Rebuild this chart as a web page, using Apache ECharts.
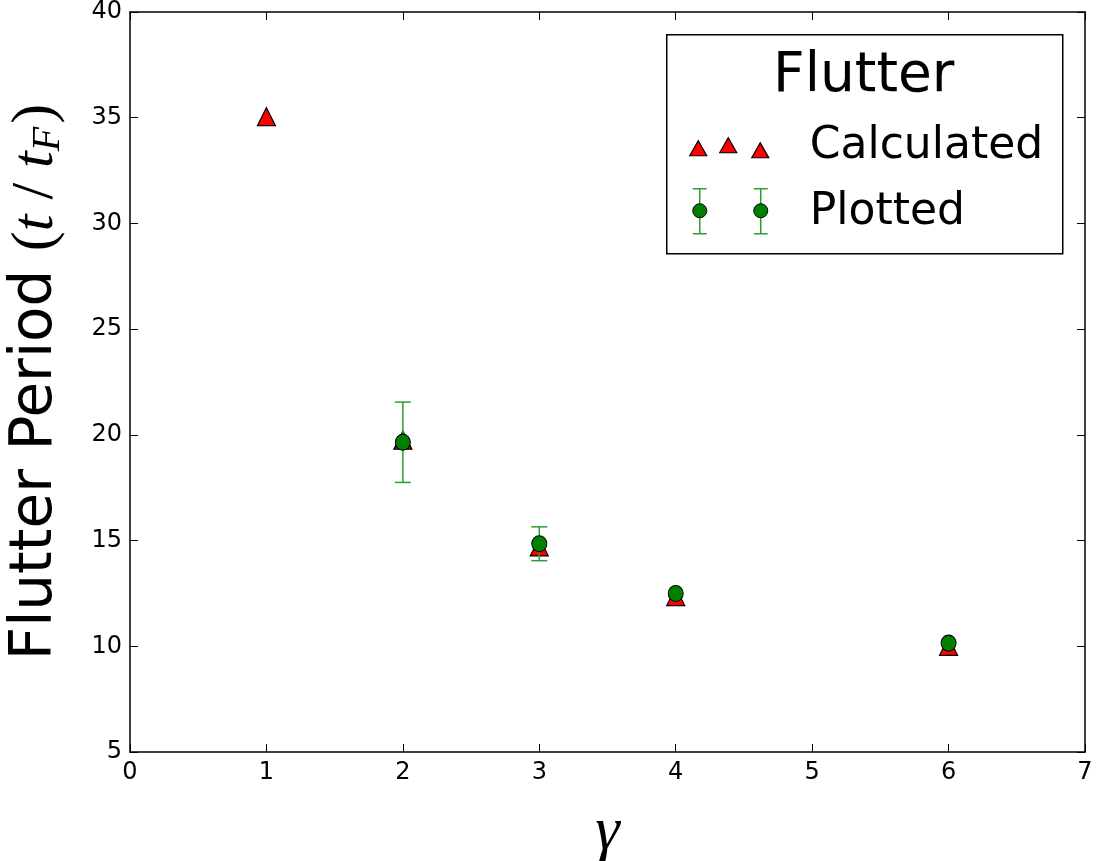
<!DOCTYPE html>
<html>
<head>
<meta charset="utf-8">
<script src="https://cdn.jsdelivr.net/npm/echarts@6/dist/echarts.min.js"></script>
<style>
html,body{margin:0;padding:0;background:#fff;}
#chart{width:1102px;height:861px;}
</style>
</head>
<body>
<div id="chart"></div>
<script>
// ---- data ----
const calcX = [1, 2, 3, 4, 6];
const calcY = [35.05, 19.75, 14.7, 12.35, 10.0];
const plotX = [2, 3, 4, 6];
const plotY = [19.65, 14.85, 12.5, 10.15];
const plotErr = [1.9, 0.8, 0, 0];
const xTicks = [0, 1, 2, 3, 4, 5, 6, 7];
const yTicks = [5, 10, 15, 20, 25, 30, 35, 40];
const legendTitle = 'Flutter';
const seriesNames = ['Calculated', 'Plotted'];

const FONT = 'DejaVu Sans';
const SERIF = 'Liberation Serif';
const chart = echarts.init(document.getElementById('chart'), null, {renderer: 'canvas'});

const calcData = calcX.map((x, i) => [x, calcY[i]]);
const plotData = plotX.map((x, i) => [x, plotY[i], plotErr[i]]);

const tickCommon = {show: true, inside: true, length: 8, lineStyle: {color: '#000', width: 1}};
const lineCommon = {show: true, onZero: false, lineStyle: {color: '#000', width: 1.5}};

const option = {
  backgroundColor: '#fff',
  animation: false,
  grid: {left: 130, right: 17, top: 12, bottom: 109, containLabel: false, outerBoundsMode: 'none'},
  xAxis: [{
    type: 'value', min: xTicks[0], max: xTicks[xTicks.length - 1], interval: 1,
    axisLine: lineCommon, axisTick: tickCommon, splitLine: {show: false},
    axisLabel: {color: '#000', fontFamily: FONT, fontSize: 24, margin: 9},
    name: 'γ', nameLocation: 'middle', nameGap: 50,
    nameTextStyle: {fontFamily: SERIF, fontStyle: 'italic', fontSize: 62, color: '#000'}
  }, {
    type: 'value', position: 'top', min: xTicks[0], max: xTicks[xTicks.length - 1], interval: 1,
    axisLine: lineCommon, axisTick: tickCommon, splitLine: {show: false}, axisLabel: {show: false}
  }],
  yAxis: [{
    type: 'value', min: yTicks[0], max: yTicks[yTicks.length - 1], interval: 5,
    axisLine: lineCommon, axisTick: tickCommon, splitLine: {show: false},
    axisLabel: {color: '#000', fontFamily: FONT, fontSize: 24, margin: 8},
    name: '{n|Flutter Period }{p|(}{m|t}{p| / }{m|t}{s|F}{p|)}', nameLocation: 'middle', nameGap: 62, nameRotate: 90,
    nameTextStyle: {
      color: '#000',
      rich: {
        n: {fontFamily: FONT, fontSize: 58, color: '#000'},
        p: {fontFamily: SERIF, fontSize: 60, color: '#000'},
        m: {fontFamily: SERIF, fontStyle: 'italic', fontSize: 60, color: '#000'},
        s: {fontFamily: SERIF, fontStyle: 'italic', fontSize: 40, color: '#000', padding: [24, 3, 0, 0]}
      }
    }
  }, {
    type: 'value', position: 'right', min: yTicks[0], max: yTicks[yTicks.length - 1], interval: 5,
    axisLine: lineCommon, axisTick: tickCommon, splitLine: {show: false}, axisLabel: {show: false}
  }],
  series: [{
    name: seriesNames[0], type: 'scatter', data: calcData, symbol: 'triangle', symbolSize: [18, 18],
    itemStyle: {color: '#ff0000', borderColor: '#000', borderWidth: 1.2, opacity: 1}, z: 2
  }, {
    name: seriesNames[1] + ' err', type: 'custom', data: plotData, z: 3,
    renderItem: function (params, api) {
      const x = api.value(0), y = api.value(1), e = api.value(2);
      if (!e) return {type: 'group', children: []};
      const top = api.coord([x, y + e]);
      const bot = api.coord([x, y - e]);
      const hw = 8;
      const st = {stroke: '#2ca02c', lineWidth: 1.5};
      return {type: 'group', children: [
        {type: 'line', shape: {x1: top[0], y1: top[1], x2: bot[0], y2: bot[1]}, style: st},
        {type: 'line', shape: {x1: top[0] - hw, y1: top[1], x2: top[0] + hw, y2: top[1]}, style: st},
        {type: 'line', shape: {x1: bot[0] - hw, y1: bot[1], x2: bot[0] + hw, y2: bot[1]}, style: st}
      ]};
    }
  }, {
    name: seriesNames[1], type: 'scatter', data: plotData, symbol: 'circle', symbolSize: [15, 16],
    itemStyle: {color: '#008000', borderColor: '#000', borderWidth: 1, opacity: 1}, z: 4
  }],
  graphic: [{
    type: 'group', left: 666, top: 34, z: 10,
    children: [
      {type: 'rect', shape: {x: 0, y: 0, width: 396, height: 219}, style: {fill: '#fff', stroke: '#000', lineWidth: 1.5}},
      {type: 'text', x: 197, y: 42, style: {text: legendTitle, font: '55px "DejaVu Sans"', fill: '#000', textAlign: 'center', textVerticalAlign: 'middle'}},
      {type: 'polygon', shape: {points: [[23, 121], [40, 121], [31.5, 106]]}, style: {fill: '#ff0000', stroke: '#000', lineWidth: 1.2}},
      {type: 'polygon', shape: {points: [[53, 118], [70, 118], [61.5, 103]]}, style: {fill: '#ff0000', stroke: '#000', lineWidth: 1.2}},
      {type: 'polygon', shape: {points: [[85, 123], [102, 123], [93.5, 108]]}, style: {fill: '#ff0000', stroke: '#000', lineWidth: 1.2}},
      {type: 'text', x: 143, y: 112, style: {text: seriesNames[0], font: '44px "DejaVu Sans"', fill: '#000', textAlign: 'left', textVerticalAlign: 'middle'}},
      {type: 'line', shape: {x1: 33, y1: 154, x2: 33, y2: 199}, style: {stroke: '#2ca02c', lineWidth: 1.5}},
      {type: 'line', shape: {x1: 26, y1: 154, x2: 40, y2: 154}, style: {stroke: '#2ca02c', lineWidth: 1.5}},
      {type: 'line', shape: {x1: 26, y1: 199, x2: 40, y2: 199}, style: {stroke: '#2ca02c', lineWidth: 1.5}},
      {type: 'circle', shape: {cx: 33, cy: 176, r: 7}, style: {fill: '#008000', stroke: '#000', lineWidth: 1}},
      {type: 'line', shape: {x1: 94, y1: 154, x2: 94, y2: 199}, style: {stroke: '#2ca02c', lineWidth: 1.5}},
      {type: 'line', shape: {x1: 87, y1: 154, x2: 101, y2: 154}, style: {stroke: '#2ca02c', lineWidth: 1.5}},
      {type: 'line', shape: {x1: 87, y1: 199, x2: 101, y2: 199}, style: {stroke: '#2ca02c', lineWidth: 1.5}},
      {type: 'circle', shape: {cx: 94, cy: 176, r: 7}, style: {fill: '#008000', stroke: '#000', lineWidth: 1}},
      {type: 'text', x: 143, y: 178, style: {text: seriesNames[1], font: '44px "DejaVu Sans"', fill: '#000', textAlign: 'left', textVerticalAlign: 'middle'}}
    ]
  }]
};
chart.setOption(option);
</script>
</body>
</html>
